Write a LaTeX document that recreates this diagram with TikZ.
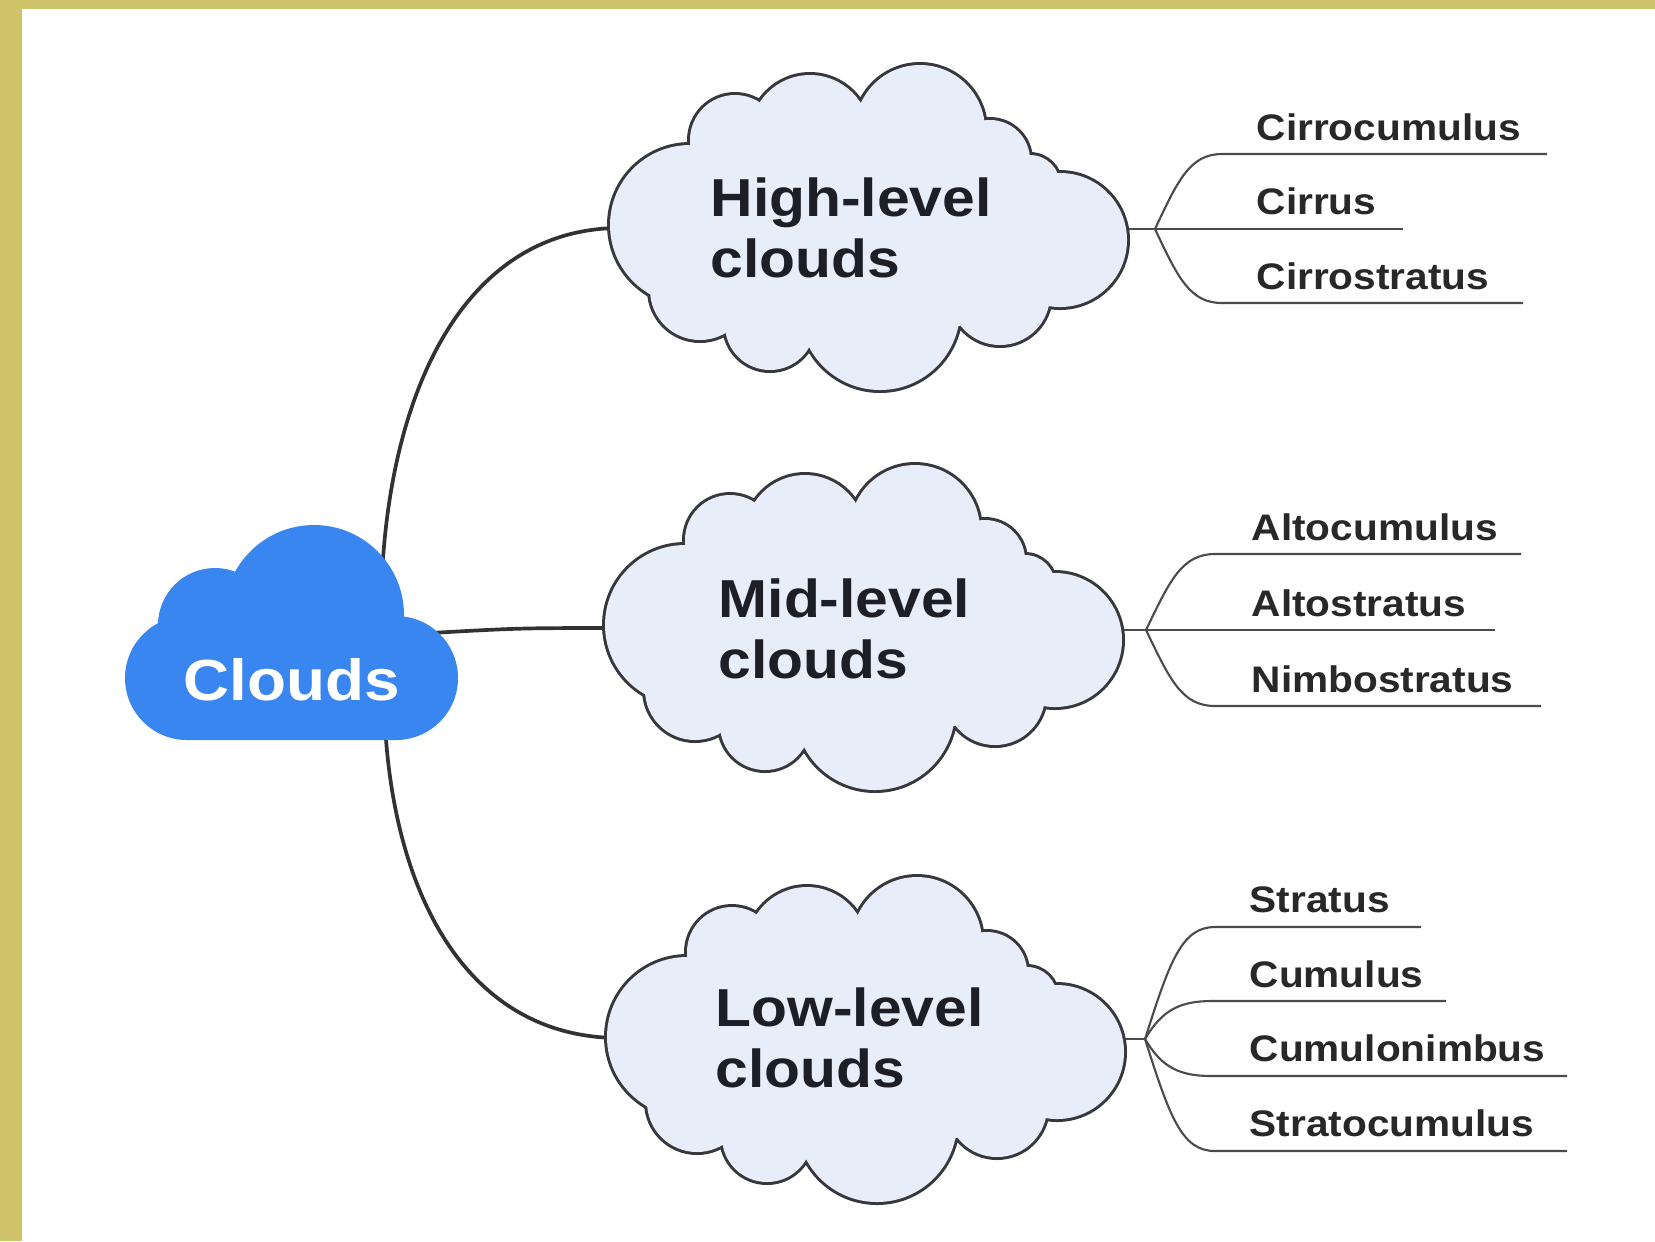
\documentclass[tikz,border=0pt]{standalone}
\usepackage{fontspec}
\newfontfamily\lblfont[FakeStretch=1.1]{Liberation Sans}
\definecolor{gold}{RGB}{206,195,104}
\definecolor{cblue}{RGB}{58,134,240}
\definecolor{cfill}{RGB}{232,237,250}
\definecolor{cedge}{RGB}{55,55,60}
\definecolor{ink}{RGB}{30,30,38}
\definecolor{leafink}{RGB}{40,40,40}
\definecolor{leafline}{RGB}{75,75,75}
\definecolor{mainline}{RGB}{50,50,50}
\begin{document}
\begin{tikzpicture}[x=0.01cm, y=-0.01cm,
  mainconn/.style={draw=mainline, line width=1.05pt},
  leafconn/.style={draw=leafline, line width=0.6pt},
  leaftext/.style={anchor=base west, inner sep=0pt, text=leafink, font=\lblfont\bfseries\fontsize{10.5pt}{12pt}\selectfont},
  cloudtext/.style={anchor=base west, inner sep=0pt, align=left, text=ink, font=\lblfont\bfseries\fontsize{15.2pt}{17.1pt}\selectfont},
  roottext/.style={anchor=base, inner sep=0pt, text=white, font=\lblfont\bfseries\fontsize{16.5pt}{18pt}\selectfont},
]
\useasboundingbox (0,0) rectangle (1655,1241);
\fill[gold] (0,0) rectangle (1655,1241);
\fill[white] (22,9) rectangle (1655,1241);

% named coordinates
\coordinate (rootN) at (382,575);
\coordinate (rootE) at (430,633);
\coordinate (rootS) at (385,725);
\coordinate (highW) at (620,228);
\coordinate (midW) at (620,628);
\coordinate (lowW) at (620,1038);
\coordinate (highE) at (1090,229);
\coordinate (midE) at (1085,630);
\coordinate (lowE) at (1085,1039);
\coordinate (hb) at (1155,229);
\coordinate (mb) at (1146,630);
\coordinate (lb) at (1145,1039);
\coordinate (h1) at (1547,154);
\coordinate (h2) at (1403,229);
\coordinate (h3) at (1523,303);
\coordinate (m1) at (1521,554);
\coordinate (m2) at (1495,630);
\coordinate (m3) at (1541,706);
\coordinate (l1) at (1421,927);
\coordinate (l2) at (1446,1001);
\coordinate (l3) at (1567,1076);
\coordinate (l4) at (1567,1151);

% main connectors
\draw[mainconn] (rootN) .. controls (392,380) and (470,228) .. (highW);
\draw[mainconn] (rootE) .. controls (520,628) .. (midW);
\draw[mainconn] (rootS) .. controls (395,900) and (470,1038) .. (lowW);

% leaf connectors
\draw[leafconn] (highE) -- (hb) -- (h2);
\draw[leafconn] (hb) .. controls (1178,180) and (1190,154) .. (1222,154) -- (h1);
\draw[leafconn] (hb) .. controls (1178,278) and (1190,303) .. (1222,303) -- (h3);
\draw[leafconn] (midE) -- (mb) -- (m2);
\draw[leafconn] (mb) .. controls (1170,580) and (1182,554) .. (1215,554) -- (m1);
\draw[leafconn] (mb) .. controls (1170,680) and (1182,706) .. (1215,706) -- (m3);
\draw[leafconn] (lowE) -- (lb);
\draw[leafconn] (lb) .. controls (1170,960) and (1182,927) .. (1215,927) -- (l1);
\draw[leafconn] (lb) .. controls (1162,1010) and (1180,1001) .. (1212,1001) -- (l2);
\draw[leafconn] (lb) .. controls (1162,1068) and (1180,1076) .. (1212,1076) -- (l3);
\draw[leafconn] (lb) .. controls (1170,1118) and (1182,1151) .. (1215,1151) -- (l4);

% clouds (union of circles: thick stroke first, then fill)
\foreach \dx/\dy in {0/0, -5/400, -3/812} {
  \begin{scope}[shift={(\dx,\dy)}]
    \path[draw=cedge, line width=1.7pt] foreach \cx/\cy/\cr in {690/225/80, 735/140/45, 810/135/60, 920/130/65, 990/160/40, 1030/185/30, 1060/240/67, 1000/295/50, 880/310/80, 770/325/45, 700/290/50} {(\cx,\cy) circle[radius=\cr]};
    \path[fill=cfill] foreach \cx/\cy/\cr in {690/225/80, 735/140/45, 810/135/60, 920/130/65, 990/160/40, 1030/185/30, 1060/240/67, 1000/295/50, 880/310/80, 770/325/45, 700/290/50} {(\cx,\cy) circle[radius=\cr]};
    \path[fill=cfill] (868,228) ellipse[x radius=200, y radius=110];
  \end{scope}
}

% root cloud
\fill[cblue, rounded corners=0.62cm] (125,616) rectangle (458,740);
\fill[cblue] (215,625) circle[radius=57];
\fill[cblue] (314,615) circle[radius=90];
\node[roottext] (root) at (292,700) {Clouds};

% level labels (base = baseline of last line)
\node[cloudtext] (high) at (710,277) {High-level\\clouds};
\node[cloudtext] (mid) at (718,678) {Mid-level\\clouds};
\node[cloudtext] (low) at (715,1087) {Low-level\\clouds};

% leaves
\node[leaftext] (cirrocumulus) at (1256,140) {Cirrocumulus};
\node[leaftext] (cirrus) at (1256,214) {Cirrus};
\node[leaftext] (cirrostratus) at (1256,289) {Cirrostratus};
\node[leaftext] (altocumulus) at (1251,540) {Altocumulus};
\node[leaftext] (altostratus) at (1251,616) {Altostratus};
\node[leaftext] (nimbostratus) at (1251,692) {Nimbostratus};
\node[leaftext] (stratus) at (1249,912) {Stratus};
\node[leaftext] (cumulus) at (1249,987) {Cumulus};
\node[leaftext] (cumulonimbus) at (1249,1061) {Cumulonimbus};
\node[leaftext] (stratocumulus) at (1249,1136) {Stratocumulus};
\end{tikzpicture}
\end{document}
